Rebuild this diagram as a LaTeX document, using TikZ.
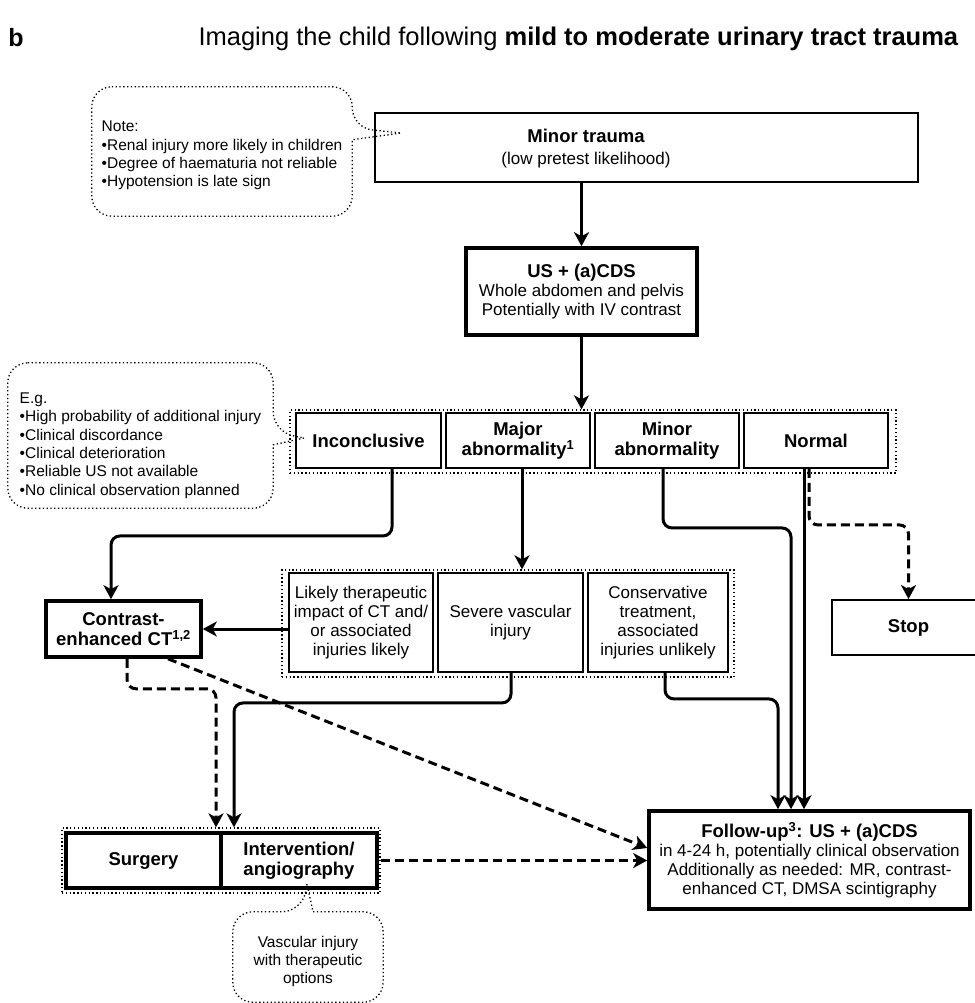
\documentclass[tikz,border=0pt]{standalone}
\usepackage{fontspec}
\setmainfont{Liberation Sans}
\usetikzlibrary{arrows.meta,positioning,calc}
\newcommand{\boxhead}[1]{{\fontsize{18.5}{20}\selectfont\bfseries #1}}
\tikzset{
  txtbox/.style={draw, line width=1.9pt, fill=white, align=center, inner sep=2pt,
                 font=\fontsize{17}{19}\selectfont},
  thickbox/.style={txtbox, line width=3.6pt},
  hdbox/.style={txtbox, minimum height=55pt, font=\fontsize{18.5}{20.5}\selectfont\bfseries},
  grpbox/.style={draw, line width=1.3pt, dash pattern=on 1.3pt off 2.5pt, inner sep=0pt},
  notetext/.style={align=left, inner sep=0pt, font=\fontsize{15.5}{18.3}\selectfont},
  callout/.style={line width=1.3pt, dash pattern=on 1.3pt off 2.5pt, rounded corners=20pt},
  arr/.style={-{Stealth[length=14pt, width=15pt, inset=4pt]}, line width=3pt, rounded corners=9pt},
  darr/.style={arr, dash pattern=on 9pt off 5pt}}

\begin{document}
\begin{tikzpicture}[x=1pt, y=-1pt]
  \useasboundingbox (0,0) rectangle (974,1003);

  % heading
  \node[font=\fontsize{25}{25}\selectfont\bfseries] (panel) at (16,38) {b};
  \node[anchor=west, font=\fontsize{25.5}{27}\selectfont] (title) at (195,39)
    {Imaging the child following \textbf{mild to moderate urinary tract trauma}};

  % first imaging
  \node[txtbox, minimum width=543pt, minimum height=69pt] (minor) at (646.5,147.5) {};
  \node[txtbox, draw=none, fill=none] (minorlbl) at (586,149)
    {\boxhead{Minor trauma}\\[3pt](low pretest likelihood)};
  \node[thickbox, minimum width=231pt, minimum height=87pt] (us) at (581.5,291.5)
    {\boxhead{US + (a)CDS}\\Whole abdomen and pelvis\\Potentially with IV contrast};

  % US findings
  \node[grpbox, minimum width=606pt, minimum height=63pt] (grp1) at (593,441.5) {};
  \node[hdbox, minimum width=145pt] (incon) at (368.5,440.5) {Inconclusive};
  \node[hdbox, minimum width=144pt] (major) at (518,440.5) {Major\\abnormality\textsuperscript{1}};
  \node[hdbox, minimum width=144pt] (minab) at (667,440.5) {Minor\\abnormality};
  \node[hdbox, minimum width=144pt] (normal) at (816,440.5) {Normal};
  \node[hdbox, minimum width=153pt] (stop) at (908.5,627.5) {Stop};

  % CT and major abnormality branch
  \node[hdbox, line width=3.6pt, minimum width=155pt, minimum height=56pt] (ct) at (123.5,629)
    {Contrast-\\enhanced CT\textsuperscript{1,2}};
  \node[grpbox, minimum width=452pt, minimum height=107pt] (grp2) at (508,623.5) {};
  \node[txtbox, minimum width=144pt, minimum height=99pt] (likely) at (361,622.5)
    {Likely therapeutic\\impact of CT and/\\or associated\\injuries likely};
  \node[txtbox, minimum width=145pt, minimum height=99pt] (severe) at (510.5,622.5)
    {Severe vascular\\injury};
  \node[txtbox, minimum width=140pt, minimum height=99pt] (conserv) at (658,622.5)
    {Conservative\\treatment,\\associated\\injuries unlikely};

  % treatment and follow-up
  \node[grpbox, minimum width=318pt, minimum height=65pt] (grp3) at (221,860.5) {};
  \node[hdbox, line width=3.6pt, minimum width=155pt] (surgery) at (143.5,860.5) {Surgery};
  \node[hdbox, line width=3.6pt, minimum width=156pt] (interv) at (299,860.5) {Intervention/\\angiography};
  \node[thickbox, minimum width=321pt, minimum height=98pt] (follow) at (809.5,860)
    {\boxhead{Follow-up\textsuperscript{3}: US + (a)CDS}\\in 4-24 h, potentially clinical observation\\Additionally as needed: MR, contrast-\\enhanced CT, DMSA scintigraphy};

  % notes
  \node[notetext, minimum width=260pt, minimum height=129pt] (noteA) at (222,151.5)
    {\rule{0pt}{19pt}Note:\\•Renal injury more likely in children\\•Degree of haematuria not reliable\\•Hypotension is late sign};
  \node[notetext, minimum width=265pt, minimum height=145pt] (noteB) at (140.5,435.5)
    {\rule{0pt}{31pt}E.g.\\•High probability of additional injury\\•Clinical discordance\\•Clinical deterioration\\•Reliable US not available\\•No clinical observation planned};
  \node[notetext, align=center, minimum width=150pt, minimum height=90pt] (noteC) at (308,957)
    {\rule{0pt}{20pt}Vascular injury\\with therapeutic\\options};

  \draw[callout] (noteA.north west) -- (noteA.north east) -- ([yshift=-41pt]noteA.north east)
    [sharp corners] -- ([xshift=27pt,yshift=14.5pt]minor.west) -- ([yshift=-53pt]noteA.north east)
    [rounded corners=20pt] -- (noteA.south east) -- (noteA.south west) -- cycle;
  \draw[callout] (noteB.north west) -- (noteB.north east) -- ([yshift=-69pt]noteB.north east)
    [sharp corners] -- ([xshift=9pt,yshift=2.5pt]incon.west) -- ([yshift=-82pt]noteB.north east)
    [rounded corners=20pt] -- (noteB.south east) -- (noteB.south west) -- cycle;
  \draw[callout] ([xshift=5pt]noteC.north) -- (noteC.north east) -- (noteC.south east)
    -- (noteC.south west) -- (noteC.north west) -- ([xshift=-6pt]noteC.north)
    [sharp corners] -- ([xshift=8pt,yshift=6pt]interv.south) -- ([xshift=5pt]noteC.north);

  % connectors
  \draw[arr] (minor.south -| us.north) -- (us.north);
  \draw[arr] (us.south) -- (us.south |- grp1.north);
  \draw[arr] ([xshift=23.5pt]incon.south) -- ++(0,67) -| ([xshift=-12.5pt]ct.north);
  \draw[arr] ([xshift=4pt]major.south) -- ([xshift=4pt]major.south |- grp2.north);
  \draw[arr] (ct.east -| likely.west) -- (ct.east);
  \draw[arr] ([xshift=-4pt]minab.south) -- ++(0,59) -| ([xshift=-18.5pt]follow.north);
  \draw[arr] ([xshift=-12pt]normal.south) -- ([xshift=-12pt]normal.south |- follow.north);
  \draw[darr] ([xshift=-7pt]normal.south) -- ++(0,56) -| (stop.north);
  \draw[arr] ([xshift=7pt]conserv.south) -- ++(0,26) -| ([xshift=-31.5pt]follow.north);
  \draw[arr] ([xshift=0.5pt]severe.south) -- ++(0,30) -| ([xshift=-65pt]interv.north |- grp3.north);
  \draw[darr] ([xshift=3.5pt]ct.south) -- ++(0,30) -| ([xshift=72.5pt]surgery.north |- grp3.north);
  \draw[darr] ([xshift=44.5pt]ct.south) -- ([yshift=12pt]follow.west);
  \draw[darr] (grp3.east) -- (grp3.east -| follow.west);
\end{tikzpicture}
\end{document}
